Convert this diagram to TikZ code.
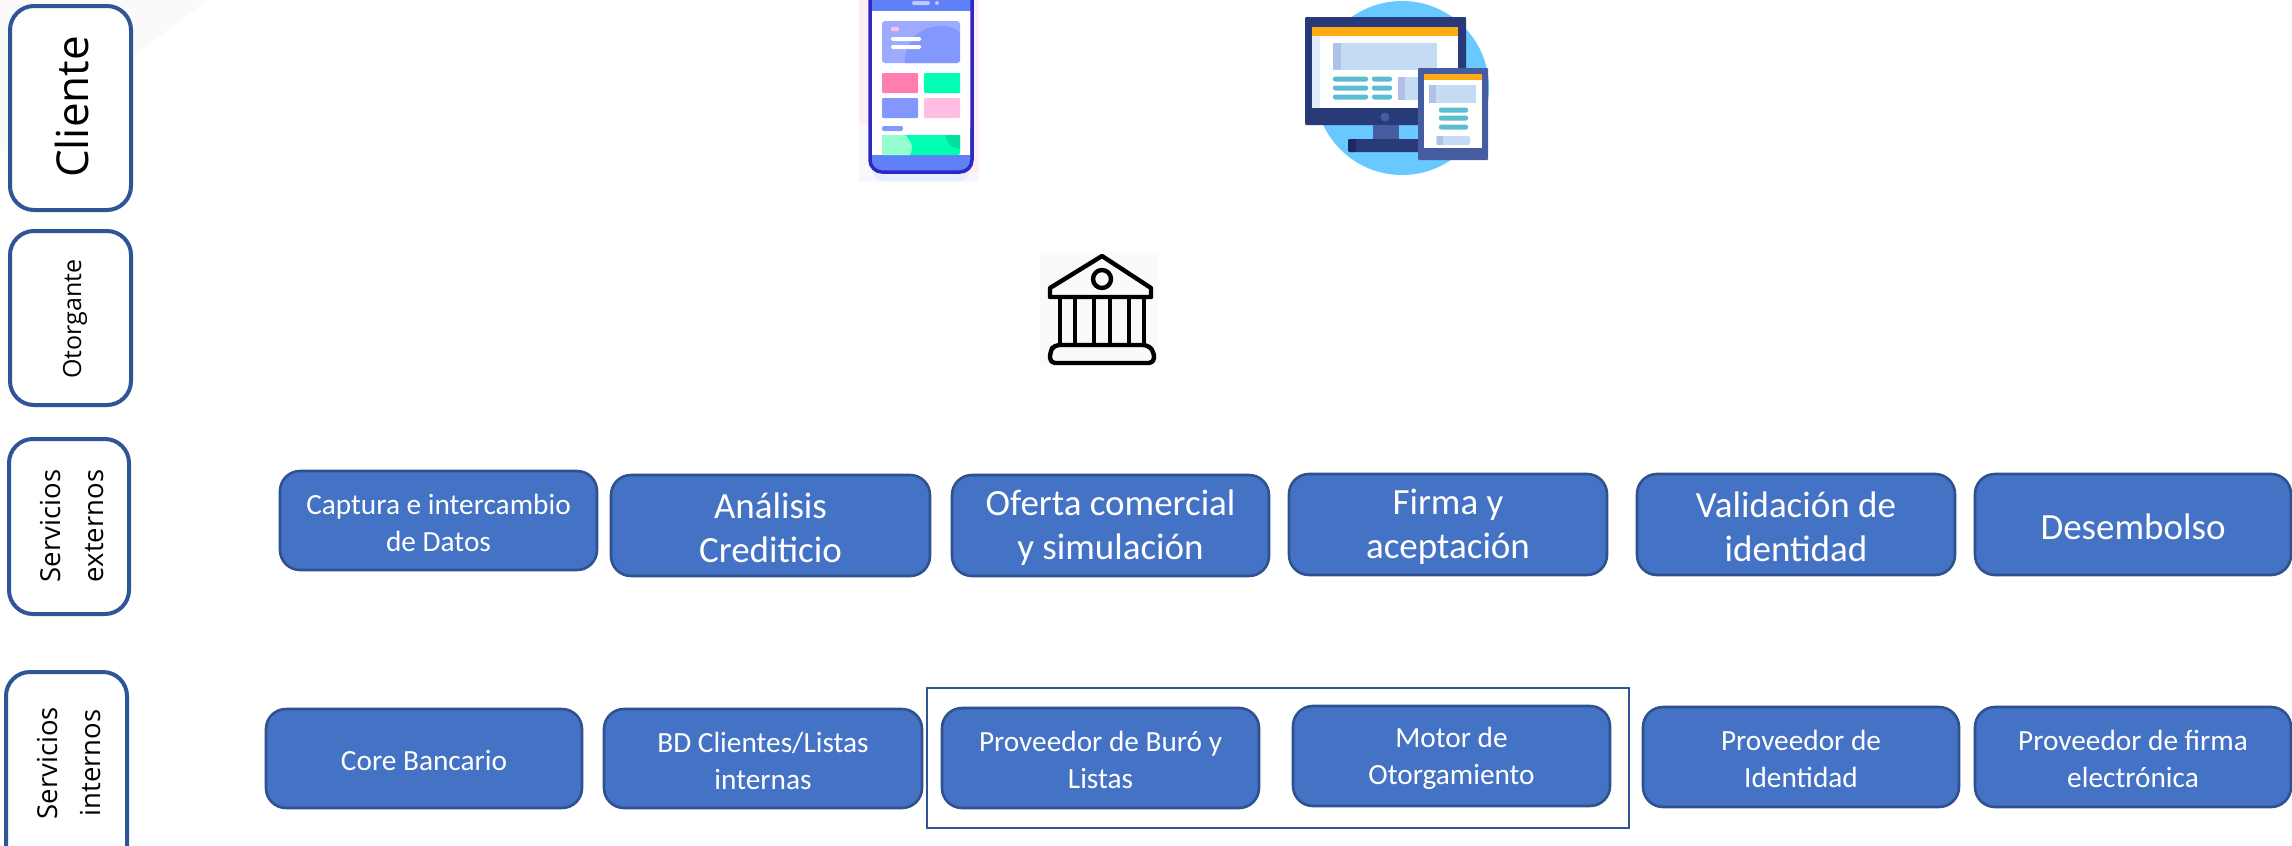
\documentclass[tikz,border=0pt]{standalone}
\usepackage{fontspec}
\setmainfont{Carlito}
\newfontfamily\sego{Open Sans}
\definecolor{edgeblue}{HTML}{2F5597}
\definecolor{boxblue}{HTML}{4472C4}
\definecolor{boxedge}{HTML}{2F528F}
\definecolor{periw}{RGB}{96,128,248}
\definecolor{phonerim}{RGB}{48,40,190}
\definecolor{lilac}{RGB}{190,200,255}
\definecolor{cardbg}{RGB}{156,170,255}
\definecolor{cardfg}{RGB}{130,152,255}
\definecolor{pinkA}{RGB}{255,190,225}
\definecolor{pinkB}{RGB}{255,125,175}
\definecolor{mint}{RGB}{0,255,178}
\definecolor{mintL}{RGB}{150,255,210}
\definecolor{mintD}{RGB}{0,225,155}
\definecolor{palepink}{RGB}{252,238,246}
\definecolor{palegrey}{RGB}{246,248,252}
\definecolor{skyb}{RGB}{104,200,255}
\definecolor{navy}{RGB}{40,58,120}
\definecolor{navyD}{RGB}{28,40,95}
\definecolor{midb}{RGB}{70,92,160}
\definecolor{amber}{RGB}{255,172,20}
\definecolor{paneb}{RGB}{195,220,243}
\definecolor{paneD}{RGB}{176,192,232}
\definecolor{paneL}{RGB}{224,236,252}
\definecolor{teal}{RGB}{92,188,208}
\definecolor{bankbg}{RGB}{249,250,252}
\newcommand{\fs}[2]{\fontsize{#1}{#2}\selectfont}
\tikzset{
  x=1pt,y=-1pt,
  lane/.style={draw=edgeblue,line width=4pt,rounded corners=24pt,fill=white},
  svc/.style={draw=boxedge,line width=2.6pt,rounded corners=20pt,fill=boxblue},
  ltxt/.style={text=black,rotate=90,align=center,inner sep=0pt},
  stxt/.style={text=white,align=center,inner sep=0pt},
  bigt/.style={font=\fs{37}{44}},
  smallt/.style={font=\fs{29.3}{37}},
  ln/.style={line width=#1,line cap=round,line join=round}
}
\begin{document}
\begin{tikzpicture}
\useasboundingbox (0,0) rectangle (2292,846);
\fill[white] (0,0) rectangle (2292,846);
\fill[black!2] (0,0) -- (208,0) -- (0,155) -- cycle;
% lanes
\draw[lane] (10,6) rectangle (131,210);
\draw[lane] (10,231) rectangle (131,405);
\draw[lane] (9,439) rectangle (129,614);
\draw[lane] (6,672) rectangle (127,880);
\node[ltxt,font=\sego\fs{44}{48}] (cliente) at (72,107) {Cliente};
\node[ltxt,font=\sego\fs{25}{28}] (otorgante) at (75,319) {Otorgante};
\node[ltxt,font=\sego\fs{27.5}{43}] (sext) at (72,526) {Servicios\\externos};
\node[ltxt,font=\sego\fs{27.5}{43}] (sint) at (69,763) {Servicios\\internos};
% frame
\draw[edgeblue,line width=2.2pt] (927,688) rectangle (1629,828);
% service boxes
\foreach \n/\s/\a/\b/\c/\d/\t in {
 a1/smallt/280/471/597/570/{Captura e intercambio\\de Datos},
 b1/bigt/611/475/930/576/{Análisis\\Crediticio},
 c1/bigt/952/475/1269/576/{Oferta comercial\\y simulación},
 d1/bigt/1289/474/1607/575/{Firma y\\aceptación},
 e1/bigt/1637/474/1955/575/{Validación de\\identidad},
 f1/bigt/1975/474/2291/575/{Desembolso},
 a2/smallt/266/709/582/808/{Core Bancario},
 b2/smallt/604/709/922/808/{BD Clientes/Listas\\internas},
 c2/smallt/942/708/1259/808/{Proveedor de Buró y\\Listas},
 d2/smallt/1293/706/1610/806/{Motor de\\Otorgamiento},
 e2/smallt/1643/707/1959/807/{Proveedor de\\Identidad},
 f2/smallt/1975/707/2291/807/{Proveedor de firma\\electrónica}}{
  \draw[svc] (\a,\b) rectangle (\c,\d);
  \node[stxt,\s] (\n) at ({(\a+\c)/2},{(\b+\d)/2+2}) {\t};
}
% phone
\fill[palepink] (859,0) rectangle (979,125);
\fill[palegrey] (859,125) rectangle (979,182);
\fill[palepink] (930,178) -- (979,172) -- (979,125) -- (970,125) -- cycle;
\fill[lilac!35,rounded corners=12pt] (872,130) rectangle (970,181);
\fill[periw,rounded corners=11pt] (871,120) rectangle (971,172);
\fill[white] (872,11) rectangle (970,155);
\fill[periw] (871,0) rectangle (971,11);
\begin{scope}
\clip (860,0) rectangle (980,182);
\draw[phonerim,line width=3.5pt,rounded corners=12pt] (870,-20) rectangle (972,172);
\end{scope}
\fill[lilac,rounded corners=2pt] (912,1) rectangle (930,5);
\fill[lilac] (937,3) circle (2pt);
\fill[cardbg,rounded corners=3pt] (882,21) rectangle (960,63);
\begin{scope}
\clip[rounded corners=3pt] (882,21) rectangle (960,63);
\fill[cardfg] (905,63) .. controls (905,36) and (925,26) .. (942,26) .. controls (950,26) and (957,29) .. (960,33) -- (960,63) -- cycle;
\end{scope}
\fill[pinkA,rounded corners=1pt] (891,27) rectangle (899,31);
\fill[white,rounded corners=1.5pt] (891,37) rectangle (921,41);
\fill[white,rounded corners=1.5pt] (891,45) rectangle (921,49);
\fill[pinkB,rounded corners=1pt] (882,73) rectangle (918,93);
\fill[mint,rounded corners=1pt] (924,73) rectangle (960,93);
\fill[cardfg,rounded corners=1pt] (882,98) rectangle (918,118);
\fill[pinkA,rounded corners=1pt] (924,98) rectangle (960,118);
\fill[cardfg,rounded corners=2pt] (882,126) rectangle (903,131);
\fill[mint,rounded corners=2pt] (882,135) rectangle (960,155);
\begin{scope}
\clip (882,135) rectangle (960,155);
\fill[mintL] (882,135) -- (905,135) .. controls (915,145) and (912,150) .. (910,155) -- (882,155) -- cycle;
\fill[mintD] (960,135) circle (14pt);
\end{scope}
% desktop
\fill[skyb] (1402,88) circle (87pt);
\fill[navy,rounded corners=1pt] (1305,17) rectangle (1466,125);
\fill[white] (1312,27) rectangle (1458,108);
\fill[amber] (1312,27) rectangle (1458,36);
\fill[paneL] (1312,36) rectangle (1320,108);
\fill[paneb] (1333,43) rectangle (1437,70);
\fill[paneD] (1333,43) rectangle (1341,70);
\foreach \yy in {79,88,97}{
  \fill[teal,rounded corners=2pt] (1333,\yy-2.5) rectangle (1368,\yy+2.5);
  \fill[teal,rounded corners=2pt] (1372,\yy-2.5) rectangle (1392,\yy+2.5);
}
\fill[paneb] (1398,77) rectangle (1425,100);
\fill[paneD] (1398,77) rectangle (1405,100);
\fill[midb] (1385,117) circle (4.5pt);
\fill[midb] (1373,125) rectangle (1399,139);
\fill[navy,rounded corners=2pt] (1348,139) rectangle (1430,152);
\fill[navyD,rounded corners=2pt] (1348,139) rectangle (1356,152);
\fill[midb,rounded corners=1pt] (1418,68) rectangle (1488,160);
\fill[white] (1424,74) rectangle (1482,148);
\fill[amber] (1424,74) rectangle (1482,80);
\fill[paneb] (1429,85) rectangle (1476,103);
\fill[paneD] (1429,85) rectangle (1436,103);
\foreach \yy in {110,118,127}{
  \fill[teal,rounded corners=2pt] (1439,\yy-2.5) rectangle (1468,\yy+2.5);
}
\fill[paneb,rounded corners=2pt] (1436,136) rectangle (1470,145);
\fill[paneD] (1437,136) rectangle (1443,145);
% bank
\fill[bankbg] (1040,253) rectangle (1158,365);
\begin{scope}[ln=4.4pt,draw=black]
\draw (1102,256) -- (1151,288) -- (1151,297) -- (1050,297) -- (1050,288) -- cycle;
\draw (1102,279) circle (9pt);
\foreach \xx in {1060,1075,1094,1110,1129,1144}{\draw (\xx,297) -- (\xx,345);}
\draw[rounded corners=5pt] (1054,345) -- (1148,345) -- (1154,352) -- (1154,363) -- (1050,363) -- (1050,352) -- cycle;
\end{scope}
\end{tikzpicture}
\end{document}
